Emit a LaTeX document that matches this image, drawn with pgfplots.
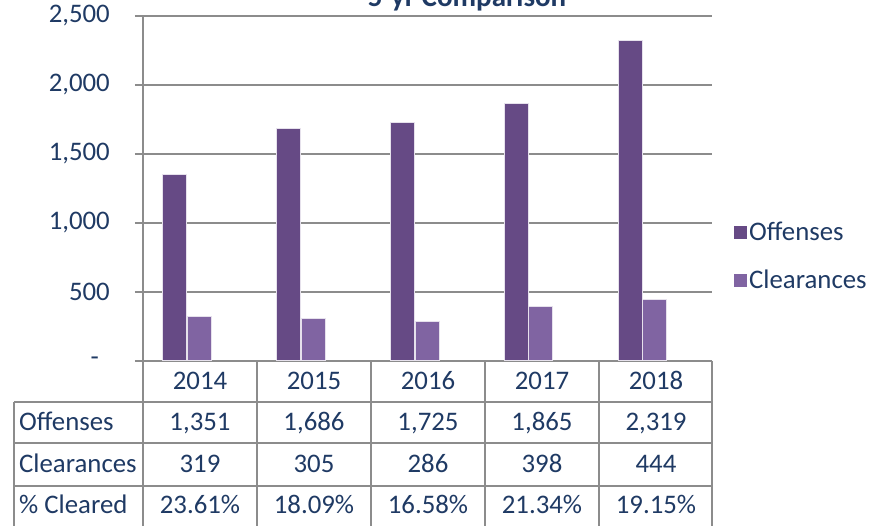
\documentclass[border=0pt]{standalone}
\usepackage{pgfplots}
\pgfplotsset{compat=1.18}
\usepackage{fontspec}
\setmainfont{Carlito}
\definecolor{navy}{HTML}{1F3A64}
\definecolor{offc}{HTML}{664A85}
\definecolor{clrc}{HTML}{8064A2}
\definecolor{gridc}{HTML}{8C8C8C}
\definecolor{halo}{HTML}{E6E1EC}
\newcommand{\bigf}{\fontsize{26.8}{32}\selectfont}
\begin{document}
\begin{tikzpicture}
\useasboundingbox (0,0) rectangle (890pt,526pt);
\begin{axis}[
  at={(143pt,165pt)}, anchor=south west,
  scale only axis, width=569pt, height=345pt,
  xmin=-0.5, xmax=4.5, ymin=0, ymax=2500,
  axis x line*=bottom, axis y line*=left,
  axis line style={gridc, line width=1.5pt, -},
  xtick=\empty,
  ytick={0,500,1000,1500,2000,2500},
  yticklabels={{-\hspace*{11pt}},{500},{1,000},{1,500},{2,000},{2,500}},
  tick align=outside, major tick length=8pt,
  tick style={gridc, line width=1.5pt},
  ymajorgrids, grid style={gridc, line width=1.5pt},
  yticklabel style={font=\bigf, text=navy, inner sep=0pt, anchor=east, xshift=-25pt},
  ybar, bar width=24pt,
  legend style={draw=none, fill=none, at={(1,0.304)}, anchor=west, xshift=22pt,
    font=\bigf, text=navy, row sep=24pt, inner sep=0pt,
    /tikz/every even column/.append style={column sep=14pt}},
  legend cell align=left,
]
\addplot[fill=offc, draw=halo, line width=1pt, bar shift=-25pt,
  legend image code/.code={\fill[offc] (0pt,-6pt) rectangle (12pt,6pt);}]
  coordinates {(0,1351) (1,1686) (2,1725) (3,1865) (4,2319)};
\addplot[fill=clrc, draw=halo, line width=1pt, bar shift=-0.5pt,
  legend image code/.code={\fill[clrc] (0pt,-6pt) rectangle (12pt,6pt);}]
  coordinates {(0,319) (1,305) (2,286) (3,398) (4,444)};
\legend{Offenses, Clearances}
\end{axis}
% data table
\begin{scope}[gridc, line width=1.5pt]
\foreach \x in {143,257,371,485,599,712} \draw (\x pt,165pt) -- (\x pt,-2pt);
\draw (14pt,124pt) -- (14pt,-2pt);
\foreach \y in {124,83,40} \draw (14pt,\y pt) -- (712pt,\y pt);
\end{scope}
\begin{scope}[every node/.style={font=\bigf, text=navy, anchor=base, inner sep=0pt}]
\node at (200pt,136pt) {2014};
\node at (314pt,136pt) {2015};
\node at (428pt,136pt) {2016};
\node at (542pt,136pt) {2017};
\node at (656pt,136pt) {2018};
\node[anchor=base west] at (19pt,95pt) {Offenses};
\node at (200pt,95pt) {1,351};
\node at (314pt,95pt) {1,686};
\node at (428pt,95pt) {1,725};
\node at (542pt,95pt) {1,865};
\node at (656pt,95pt) {2,319};
\node[anchor=base west] at (19pt,53pt) {Clearances};
\node at (200pt,53pt) {319};
\node at (314pt,53pt) {305};
\node at (428pt,53pt) {286};
\node at (542pt,53pt) {398};
\node at (656pt,53pt) {444};
\node[anchor=base west] at (19pt,12pt) {\% Cleared};
\node at (200pt,12pt) {23.61\%};
\node at (314pt,12pt) {18.09\%};
\node at (428pt,12pt) {16.58\%};
\node at (542pt,12pt) {21.34\%};
\node at (656pt,12pt) {19.15\%};
\end{scope}
\node[anchor=base, inner sep=0pt, font=\bfseries\fontsize{29}{34}\selectfont, text=navy] at (467pt,519pt) {5-yr Comparison};
\end{tikzpicture}
\end{document}
